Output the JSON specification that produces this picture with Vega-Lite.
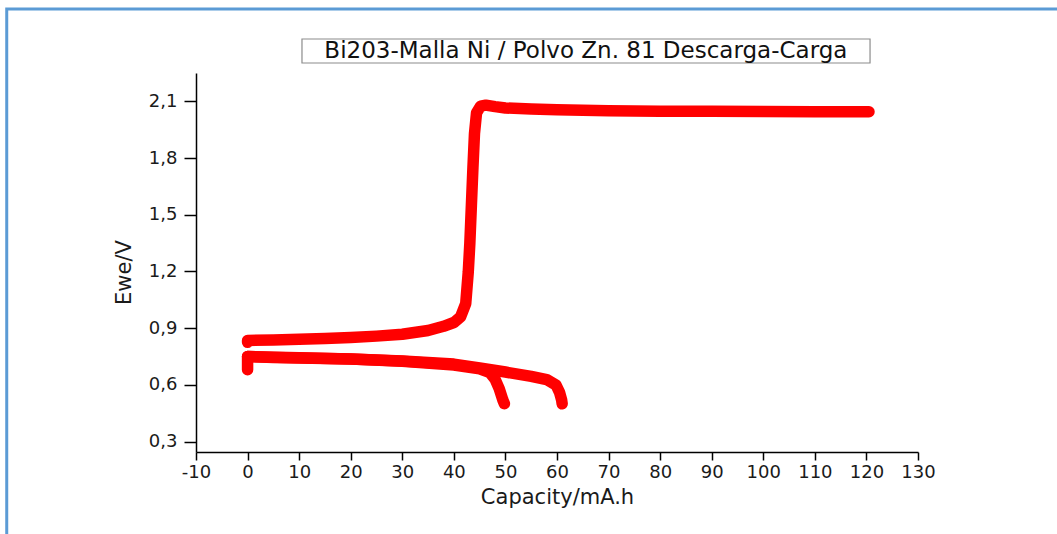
{
  "$schema": "https://vega.github.io/schema/vega-lite/v6.json",
  "autosize": "none",
  "width": 722,
  "height": 379,
  "padding": {"left": 196, "top": 73, "right": 139, "bottom": 82},
  "background": "white",
  "config": {
    "view": {"stroke": null},
    "axis": {
      "grid": false,
      "domainColor": "#000000",
      "domainWidth": 1.5,
      "tickColor": "#000000",
      "tickWidth": 1.5,
      "labelFont": "DejaVu Sans",
      "labelFontSize": 17,
      "labelColor": "#1a1a1a",
      "titleFont": "DejaVu Sans",
      "titleFontSize": 21,
      "titleFontWeight": "normal",
      "titleColor": "#1a1a1a",
      "labelOverlap": false,
      "labelFlush": false,
      "labelBound": false
    }
  },
  "layer": [
    {
      "data": {"values": [{}]},
      "mark": {"type": "rect", "fill": null, "stroke": "#5B9BD5", "strokeWidth": 3, "clip": false},
      "encoding": {
        "x": {"datum": -46.7, "type": "quantitative"},
        "x2": {"datum": 200},
        "y": {"datum": 2.588, "type": "quantitative"},
        "y2": {"datum": -2}
      }
    },
    {
      "data": {"values": [{}]},
      "mark": {"type": "rect", "fill": null, "stroke": "#8c8c8c", "strokeWidth": 1.2, "clip": false},
      "encoding": {
        "x": {"datum": 10.55, "type": "quantitative"},
        "x2": {"datum": 120.7},
        "y": {"datum": 2.43, "type": "quantitative"},
        "y2": {"datum": 2.303}
      }
    },
    {
      "data": {"values": [{}]},
      "mark": {"type": "text", "text": "Bi203-Malla Ni / Polvo Zn. 81 Descarga-Carga", "font": "DejaVu Sans", "fontSize": 23, "color": "#111111", "align": "center", "baseline": "middle", "clip": false},
      "encoding": {
        "x": {"datum": 65.6, "type": "quantitative"},
        "y": {"datum": 2.367, "type": "quantitative"}
      }
    },
    {
      "data": {
        "values": [
          {"s": "charge", "i": 0, "x": 0, "y": 0.825},
          {"s": "charge", "i": 1, "x": 0, "y": 0.835},
          {"s": "charge", "i": 2, "x": 5, "y": 0.838},
          {"s": "charge", "i": 3, "x": 10, "y": 0.842},
          {"s": "charge", "i": 4, "x": 15, "y": 0.846},
          {"s": "charge", "i": 5, "x": 20, "y": 0.851},
          {"s": "charge", "i": 6, "x": 25, "y": 0.858},
          {"s": "charge", "i": 7, "x": 30, "y": 0.868},
          {"s": "charge", "i": 8, "x": 35, "y": 0.888},
          {"s": "charge", "i": 9, "x": 38, "y": 0.91},
          {"s": "charge", "i": 10, "x": 40, "y": 0.93},
          {"s": "charge", "i": 11, "x": 41.3, "y": 0.96},
          {"s": "charge", "i": 12, "x": 42.3, "y": 1.03},
          {"s": "charge", "i": 13, "x": 42.8, "y": 1.2},
          {"s": "charge", "i": 14, "x": 43.1, "y": 1.35},
          {"s": "charge", "i": 15, "x": 43.4, "y": 1.55},
          {"s": "charge", "i": 16, "x": 43.7, "y": 1.75},
          {"s": "charge", "i": 17, "x": 44.0, "y": 1.93},
          {"s": "charge", "i": 18, "x": 44.4, "y": 2.04},
          {"s": "charge", "i": 19, "x": 45.2, "y": 2.075},
          {"s": "charge", "i": 20, "x": 46.2, "y": 2.08},
          {"s": "charge", "i": 21, "x": 48, "y": 2.072},
          {"s": "charge", "i": 22, "x": 50, "y": 2.065},
          {"s": "charge", "i": 23, "x": 55, "y": 2.06},
          {"s": "charge", "i": 24, "x": 60, "y": 2.055},
          {"s": "charge", "i": 25, "x": 70, "y": 2.05},
          {"s": "charge", "i": 26, "x": 80, "y": 2.048},
          {"s": "charge", "i": 27, "x": 90, "y": 2.047},
          {"s": "charge", "i": 28, "x": 100, "y": 2.046},
          {"s": "charge", "i": 29, "x": 110, "y": 2.045},
          {"s": "charge", "i": 30, "x": 120.5, "y": 2.045},
          {"s": "discharge1", "i": 0, "x": 0, "y": 0.68},
          {"s": "discharge1", "i": 1, "x": 0, "y": 0.75},
          {"s": "discharge1", "i": 2, "x": 5, "y": 0.745},
          {"s": "discharge1", "i": 3, "x": 10, "y": 0.742},
          {"s": "discharge1", "i": 4, "x": 20, "y": 0.737},
          {"s": "discharge1", "i": 5, "x": 30, "y": 0.725},
          {"s": "discharge1", "i": 6, "x": 40, "y": 0.705},
          {"s": "discharge1", "i": 7, "x": 45, "y": 0.685},
          {"s": "discharge1", "i": 8, "x": 47, "y": 0.665},
          {"s": "discharge1", "i": 9, "x": 48, "y": 0.63},
          {"s": "discharge1", "i": 10, "x": 48.8, "y": 0.58},
          {"s": "discharge1", "i": 11, "x": 49.5, "y": 0.52},
          {"s": "discharge1", "i": 12, "x": 49.8, "y": 0.5},
          {"s": "discharge2", "i": 0, "x": 0, "y": 0.75},
          {"s": "discharge2", "i": 1, "x": 10, "y": 0.743},
          {"s": "discharge2", "i": 2, "x": 20, "y": 0.737},
          {"s": "discharge2", "i": 3, "x": 30, "y": 0.727},
          {"s": "discharge2", "i": 4, "x": 40, "y": 0.71},
          {"s": "discharge2", "i": 5, "x": 45, "y": 0.69},
          {"s": "discharge2", "i": 6, "x": 50, "y": 0.668},
          {"s": "discharge2", "i": 7, "x": 55, "y": 0.645},
          {"s": "discharge2", "i": 8, "x": 58, "y": 0.628},
          {"s": "discharge2", "i": 9, "x": 59.8, "y": 0.6},
          {"s": "discharge2", "i": 10, "x": 60.5, "y": 0.56},
          {"s": "discharge2", "i": 11, "x": 60.9, "y": 0.52},
          {"s": "discharge2", "i": 12, "x": 61, "y": 0.5}
        ]
      },
      "mark": {"type": "line", "color": "#ff0000", "strokeWidth": 11.5, "strokeCap": "round", "strokeJoin": "round"},
      "encoding": {
        "x": {
          "field": "x",
          "type": "quantitative",
          "title": "Capacity/mA.h",
          "scale": {"domain": [-10, 130], "nice": false, "zero": false},
          "axis": {
            "values": [-10, -5, 0, 5, 10, 15, 20, 25, 30, 35, 40, 45, 50, 55, 60, 65, 70, 75, 80, 85, 90, 95, 100, 105, 110, 115, 120, 125, 130],
            "labelExpr": "datum.value % 10 === 0 ? '' + datum.value : ''",
            "tickSize": {"condition": {"test": "datum.value % 10 === 0", "value": 8}, "value": 4},
            "labelFontSize": 18,
            "labelPadding": 3,
            "titlePadding": 5
          }
        },
        "y": {
          "field": "y",
          "type": "quantitative",
          "title": "Ewe/V",
          "scale": {"domain": [0.245, 2.25], "nice": false, "zero": false},
          "axis": {
            "values": [0.3, 0.45, 0.6, 0.75, 0.9, 1.05, 1.2, 1.35, 1.5, 1.65, 1.8, 1.95, 2.1, 2.25],
            "labelExpr": "abs(datum.value * 10 / 3 - round(datum.value * 10 / 3)) < 0.01 ? replace(format(datum.value, '.1f'), '.', ',') : ''",
            "tickSize": {"condition": {"test": "abs(datum.value * 10 / 3 - round(datum.value * 10 / 3)) < 0.01", "value": 12}, "value": 6},
            "labelFontSize": 18,
            "labelPadding": 7,
            "titlePadding": 14,
            "titleY": 199
          }
        },
        "detail": {"field": "s"},
        "order": {"field": "i"}
      }
    }
  ]
}
